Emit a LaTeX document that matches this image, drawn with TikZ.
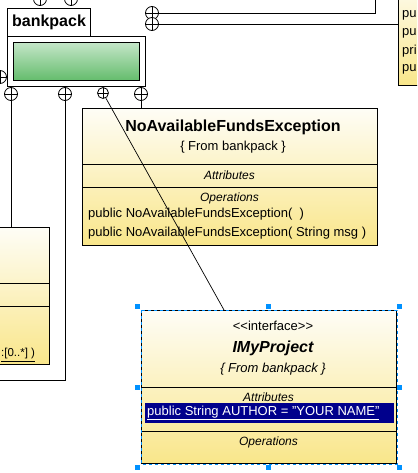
\documentclass[tikz,border=0pt]{standalone}
\usepackage{fontspec}
\setmainfont{Liberation Sans}
\usetikzlibrary{positioning}

\definecolor{umltop}{RGB}{254,253,246}
\definecolor{umlbot}{RGB}{249,230,138}
\definecolor{pkgtop}{RGB}{196,230,200}
\definecolor{pkgbot}{RGB}{100,188,108}
\definecolor{selblue}{RGB}{0,145,255}
\definecolor{hlblue}{RGB}{0,0,140}

\tikzset{
  classbox/.style={draw, line width=1pt, top color=umltop, bottom color=umlbot,
    anchor=north west, inner sep=0pt},
  plusmark/.style={circle, draw, fill=white, line width=0.8pt, minimum size=13pt, inner sep=0pt,
    path picture={\draw[line width=0.8pt] (path picture bounding box.north) -- (path picture bounding box.south)
      (path picture bounding box.west) -- (path picture bounding box.east);}},
  link/.style={line width=0.9pt},
  handle/.style={fill=selblue, minimum size=5pt, inner sep=0pt},
  small/.style={font=\fontsize{12}{14}\selectfont\itshape},
}

\begin{document}
\begin{tikzpicture}[x=1pt, y=-1pt, font=\fontsize{13}{15}\selectfont]
    \useasboundingbox (0,0) rectangle (417,473);
    \clip (0,0) rectangle (417,473);

    % Package bankpack
    \node[draw, line width=1pt, fill=white, anchor=north west, minimum width=83, minimum height=28,
      inner sep=0pt, font=\fontsize{16}{18}\selectfont\bfseries] (tab) at (7,8) {bankpack};
    \node[draw, line width=1pt, fill=white, anchor=north west, minimum width=138, minimum height=50,
      inner sep=0pt] (pkg) at (7,36) {};
    \node[draw, line width=1pt, top color=pkgtop, bottom color=pkgbot, anchor=north west,
      minimum width=126, minimum height=38, inner sep=0pt] (pkgicon) at (13,42) {};

    % Containment marks
    \node[plusmark] (up1) at (40,-1) {};
    \node[plusmark] (up2) at (71,-1) {};
    \node[plusmark] (side) at (0,77) {};
    \node[plusmark] (low1) at (11,94) {};
    \node[plusmark] (low2) at (65,94) {};
    \node[plusmark, minimum size=11pt] (low3) at (103,93) {};
    \node[plusmark] (low4) at (141,94) {};
    \node[plusmark] (right1) at (152,13) {};
    \node[plusmark] (right2) at (152,24) {};

    % Class boxes
    \node[classbox, minimum width=70, minimum height=137] (leftcls) at (-21,227) {};
    \draw[line width=1pt] (leftcls.west |- 0,283) -- (leftcls.east |- 0,283);
    \draw[line width=1pt] (leftcls.west |- 0,306) -- (leftcls.east |- 0,306);
    \node[anchor=west, inner sep=0pt, font=\fontsize{11.5}{13}\selectfont] (leftop) at (1,355) {\underline{:[0..*] )}};

    \node[classbox, minimum width=40, minimum height=110, anchor=south west] (opscls) at (398,86) {};
    \foreach \y/\t in {15/pu, 33/pu, 51/pri, 69/pu}
      \node[anchor=west, inner sep=0pt] at (402,\y) {\t};

    \node[classbox, minimum width=295, minimum height=137] (nafe) at (82,108) {};
    \draw[line width=1pt] (nafe.west |- 0,164) -- (nafe.east |- 0,164);
    \draw[line width=1pt] (nafe.west |- 0,187) -- (nafe.east |- 0,187);
    \node[font=\fontsize{16}{18}\selectfont\bfseries] (nafename) at (233,127) {NoAvailableFundsException};
    \node (nafefrom) at (233,147) {\{ From bankpack \}};
    \node[small] (nafeattr) at (229.5,175) {Attributes};
    \node[small] (nafeops) at (229.5,198) {Operations};
    \node[anchor=west, inner sep=0pt] (nafeop1) at (88,214) {public NoAvailableFundsException(\ \ )};
    \node[anchor=west, inner sep=0pt] (nafeop2) at (88,233) {public NoAvailableFundsException( String msg )};

    \node[classbox, minimum width=255, minimum height=153] (imy) at (141,310) {};
    \draw[line width=1pt] (imy.west |- 0,387) -- (imy.east |- 0,387);
    \draw[line width=1pt] (imy.west |- 0,431) -- (imy.east |- 0,431);
    \node (imystereo) at (273,326) {<{}<interface>{}>};
    \node[font=\fontsize{16}{18}\selectfont\bfseries\itshape] (imyname) at (273,348) {IMyProject};
    \node[font=\fontsize{13}{15}\selectfont\itshape] (imyfrom) at (273,369) {\{ From bankpack \}};
    \node[small] (imyattr) at (268.5,397) {Attributes};
    \node[fill=hlblue, anchor=north west, minimum width=249, minimum height=20, inner sep=0pt] (hlbar) at (145,403) {};
    \node[anchor=west, inner sep=0pt, text=white] (imyfield) at (147,413) {\underline{public String AUTHOR = "YOUR NAME"}};
    \node[small] (imyops) at (268.5,442) {Operations};

    % Selection
    \draw[selblue, dashed, line width=1pt] (imy.north west) rectangle (imy.south east);
    \foreach \x in {137,268,399}
      \foreach \y in {306,467}
        \node[handle] at (\x,\y) {};
    \node[handle] at (137,387) {};
    \node[handle] at (399,387) {};

    % Connectors
    \coordinate (imytop) at (224,310);
    \coordinate (backleft) at (-5,380);
    \coordinate (opstop) at (375,-5);
    \draw[link] (low1) -- (low1 |- leftcls.north);
    \draw[link] (low2) |- (backleft);
    \draw[link] (low4) -- (low4 |- nafe.north);
    \draw[line width=0.7pt] (low3) -- (imytop);
    \draw[link] (right1) -| (opstop);
    \draw[link] (right2) -- (right2 -| opscls.west);

\end{tikzpicture}
\end{document}
